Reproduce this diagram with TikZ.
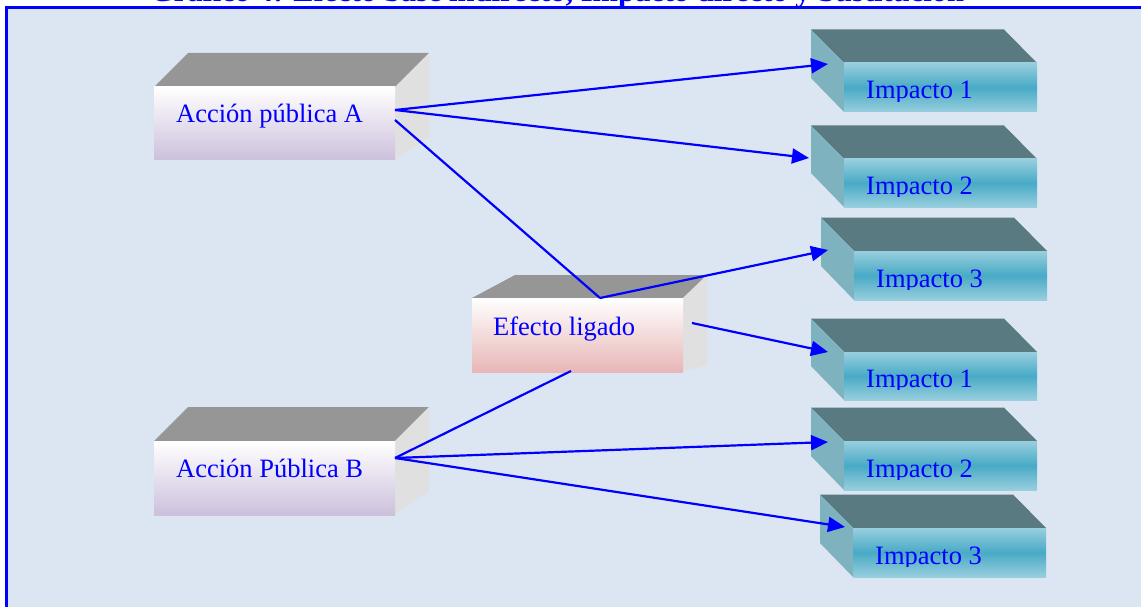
\documentclass[tikz,border=0pt]{standalone}
\usepackage{fontspec}
\setmainfont{Liberation Serif}
\usetikzlibrary{arrows.meta}
\definecolor{bgblue}{RGB}{220,230,242}
\definecolor{frameblue}{RGB}{0,0,255}
\definecolor{grayTop}{RGB}{150,150,150}
\definecolor{graySide}{RGB}{224,224,224}
\definecolor{lavender}{RGB}{204,192,220}
\definecolor{pinkish}{RGB}{232,182,182}
\definecolor{impTopC}{RGB}{89,122,128}
\definecolor{impSideC}{RGB}{126,178,191}
\definecolor{impLight}{RGB}{152,207,222}
\definecolor{impMid}{RGB}{72,170,198}
\tikzset{
  lbl/.style={anchor=base west, inner sep=0pt, text=frameblue, font=\fontsize{26.5}{30}\selectfont},
  conn/.style={draw=frameblue, line width=2.2pt},
  arr/.style={conn, -{Triangle[length=17pt,width=15pt]}},
}
% impact box: #1 name, #2 front-left x, #3 front-top y, #4 front-bottom y, #5 label
\newcommand\impbox[5]{%
  \fill[impTopC] (#2-33,#3-33.5) -- (#2+160,#3-33.5) -- (#2+193,#3) -- (#2,#3) -- cycle;
  \fill[impSideC] (#2-33,#3-33.5) -- (#2,#3) -- (#2,#4) -- (#2-33,#4-34) -- cycle;
  \shade[top color=impLight, bottom color=impLight, middle color=impMid] (#2,#3) rectangle (#2+193,#4);
  \begin{scope}
    \clip (#2,#3) rectangle (#2+193,#4-10.5);
    \node[lbl] (#1) at (#2+22,#4-13) {#5};
  \end{scope}
}
\begin{document}
\begin{tikzpicture}[x=1pt,y=-1pt]
\clip (0,0) rectangle (1141,607);
\fill[white] (0,0) rectangle (1141,607);
% clipped title
\node[anchor=base west, inner sep=0pt, text=frameblue, font=\fontsize{30.5}{34}\selectfont\bfseries] (title) at (150,2) {Gráfico 4: Efecto base indirecto, Impacto directo y Sustitución};
% frame
\fill[frameblue] (5,6.5) rectangle (1160,620);
\fill[bgblue] (8,9) rectangle (1160,620);

% Accion publica A
\fill[grayTop] (154,87) -- (188,53) -- (429,53) -- (395,87) -- cycle;
\fill[graySide] (395,87) -- (429,53) -- (429,137) -- (395,160) -- cycle;
\shade[top color=white, bottom color=lavender] (154,87) rectangle (395,160);
\node[lbl] (accA) at (176,123) {Acción pública A};

% Accion Publica B
\fill[grayTop] (154,441) -- (188,407) -- (429,407) -- (395,441) -- cycle;
\fill[graySide] (395,441) -- (429,407) -- (429,491) -- (395,515) -- cycle;
\shade[top color=white, bottom color=lavender] (154,441) rectangle (395,515);
\node[lbl] (accB) at (176,477) {Acción Pública B};

% Efecto ligado
\fill[grayTop] (472,298) -- (515,275) -- (707,275) -- (683,298) -- cycle;
\fill[graySide] (683,298) -- (707,275) -- (707,365) -- (683,372) -- cycle;
\shade[top color=white, bottom color=pinkish] (472,298) rectangle (683,372);
\node[lbl] (efecto) at (493,335) {Efecto ligado};

% impact boxes
\impbox{impA1}{844}{63}{112}{Impacto 1}
\impbox{impA2}{844}{159}{207}{Impacto 2}
\impbox{impA3}{854}{251}{300}{Impacto 3}
\impbox{impB1}{844}{352}{400}{Impacto 1}
\impbox{impB2}{844}{441}{490}{Impacto 2}
\impbox{impB3}{853}{528}{577}{Impacto 3}

% connector end points
\coordinate (aOut) at (395,110);
\coordinate (aDown) at (395,120);
\coordinate (eTop) at (600,298);
\coordinate (eRight) at (692,323);
\coordinate (eBottom) at (571,371);
\coordinate (bOut) at (395,458);
\coordinate (tA1) at (828,64);
\coordinate (tA2) at (809,158);
\coordinate (tA3) at (828,250);
\coordinate (tB1) at (828,352);
\coordinate (tB2) at (828,442);
\coordinate (tB3) at (845,527);

\draw[arr] (aOut) -- (tA1);
\draw[arr] (aOut) -- (tA2);
\draw[conn] (aDown) -- (eTop);
\draw[arr] (eTop) -- (tA3);
\draw[arr] (eRight) -- (tB1);
\draw[conn] (eBottom) -- (bOut);
\draw[arr] (bOut) -- (tB2);
\draw[arr] (bOut) -- (tB3);
\end{tikzpicture}
\end{document}
